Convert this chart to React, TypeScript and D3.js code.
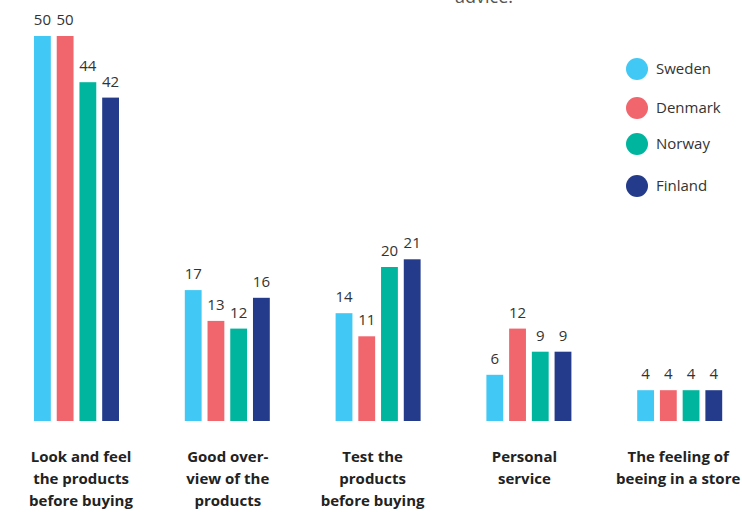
import React from "react";
import * as d3 from "d3";

const categories = [
  ["Look and feel", "the products", "before buying"],
  ["Good over-", "view of the", "products"],
  ["Test the", "products", "before buying"],
  ["Personal", "service"],
  ["The feeling of", "beeing in a store"],
];
const countries = ["Sweden", "Denmark", "Norway", "Finland"];
const colors = ["#42c8f4", "#f1656d", "#00b59e", "#243b8b"];
const sweden = [50, 17, 14, 6, 4];
const denmark = [50, 13, 11, 12, 4];
const norway = [44, 12, 20, 9, 4];
const finland = [42, 16, 21, 9, 4];
const series = [sweden, denmark, norway, finland];

const W = 742;
const H = 513;

export default function App() {
  const groupX = (i: number) => 34 + i * 150.8;
  const x1 = d3
    .scaleBand<number>()
    .domain(d3.range(countries.length))
    .range([0, 85])
    .paddingInner(0.26);
  const y = d3.scaleLinear().domain([0, 50]).range([421, 36]);
  const font = "'Open Sans', 'Noto Sans', sans-serif";
  const labelX = [47, 43, 37, 38, 41];

  return (
    <svg
      width={W}
      height={H}
      style={{ position: "absolute", left: 0, top: 0, background: "#fff" }}
      fontFamily={font}
    >
      <text x={455} y={3} fontSize={18} fill="#555">
        advice.
      </text>
      {categories.map((lines, i) => (
        <g key={i} transform={`translate(${groupX(i)},0)`}>
          {series.map((vals, s) => {
            const v = vals[i];
            const bx = x1(s)!;
            const bw = x1.bandwidth();
            return (
              <g key={s}>
                <rect x={bx} y={y(v)} width={bw} height={y(0) - y(v)} fill={colors[s]} />
                <text
                  x={bx + bw / 2}
                  y={y(v) - 11}
                  textAnchor="middle"
                  fontSize={15}
                  fill="#333"
                >
                  {v}
                </text>
              </g>
            );
          })}
          <text
            y={462}
            textAnchor="middle"
            fontSize={15}
            fontWeight={700}
            fill="#222"
          >
            {lines.map((l, k) => (
              <tspan key={k} x={labelX[i]} dy={k === 0 ? 0 : 22}>
                {l}
              </tspan>
            ))}
          </text>
        </g>
      ))}
      <g>
        {countries.map((c, s) => {
          const cy = [69, 108, 144, 186][s];
          return (
            <g key={c}>
              <circle cx={637} cy={cy} r={11} fill={colors[s]} />
              <text x={656} y={cy + 5} fontSize={15} fontWeight={500} fill="#333">
                {c}
              </text>
            </g>
          );
        })}
      </g>
    </svg>
  );
}
